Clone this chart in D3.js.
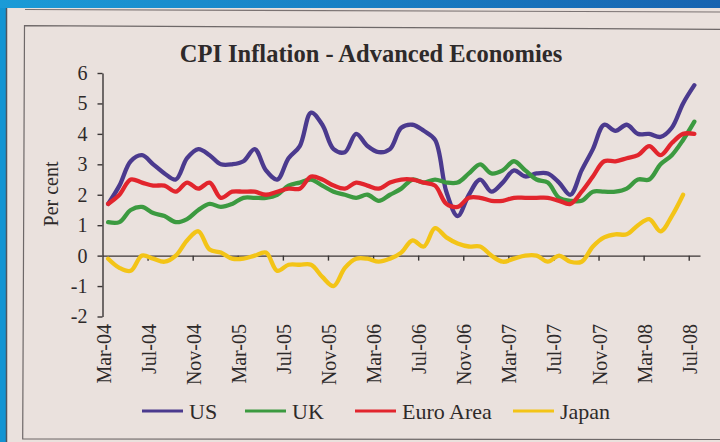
<!DOCTYPE html>
<html>
<head>
<meta charset="utf-8">
<script src="https://cdn.jsdelivr.net/npm/d3@7"></script>
<style>
  html, body { margin: 0; padding: 0; background: #1593d2; overflow: hidden; }
  svg { display: block; }
  text { font-family: 'Liberation Serif', 'DejaVu Serif', serif; fill: #2e2a2a; }
</style>
</head>
<body>
<div id="chart"></div>
<script>
// ---- Data ----
var months = [
  'Mar-04','Apr-04','May-04','Jun-04','Jul-04','Aug-04','Sep-04','Oct-04','Nov-04','Dec-04',
  'Jan-05','Feb-05','Mar-05','Apr-05','May-05','Jun-05','Jul-05','Aug-05','Sep-05','Oct-05','Nov-05','Dec-05',
  'Jan-06','Feb-06','Mar-06','Apr-06','May-06','Jun-06','Jul-06','Aug-06','Sep-06','Oct-06','Nov-06','Dec-06',
  'Jan-07','Feb-07','Mar-07','Apr-07','May-07','Jun-07','Jul-07','Aug-07','Sep-07','Oct-07','Nov-07','Dec-07',
  'Jan-08','Feb-08','Mar-08','Apr-08','May-08','Jun-08','Jul-08'
];

var tickLabels = ['Mar-04','Jul-04','Nov-04','Mar-05','Jul-05','Nov-05','Mar-06',
                  'Jul-06','Nov-06','Mar-07','Jul-07','Nov-07','Mar-08','Jul-08'];

var yTicks = [-2, -1, 0, 1, 2, 3, 4, 5, 6];

var us = [1.7, 2.3, 3.1, 3.3, 3.0, 2.7, 2.5, 3.2, 3.5, 3.3,
          3.0, 3.0, 3.1, 3.5, 2.8, 2.5, 3.2, 3.6, 4.7, 4.3, 3.5, 3.4,
          4.0, 3.6, 3.4, 3.5, 4.2, 4.3, 4.1, 3.8, 2.1, 1.3, 2.0, 2.5,
          2.1, 2.4, 2.8, 2.6, 2.7, 2.7, 2.4, 2.0, 2.8, 3.5, 4.3, 4.1,
          4.3, 4.0, 4.0, 3.9, 4.2, 5.0, 5.6];

var uk = [1.1, 1.1, 1.5, 1.6, 1.4, 1.3, 1.1, 1.2, 1.5, 1.7,
          1.6, 1.7, 1.9, 1.9, 1.9, 2.0, 2.3, 2.4, 2.5, 2.3, 2.1, 2.0,
          1.9, 2.0, 1.8, 2.0, 2.2, 2.5, 2.4, 2.5, 2.4, 2.4, 2.7, 3.0,
          2.7, 2.8, 3.1, 2.8, 2.5, 2.4, 1.9, 1.8, 1.8, 2.1, 2.1, 2.1,
          2.2, 2.5, 2.5, 3.0, 3.3, 3.8, 4.4];

var euro = [1.7, 2.0, 2.5, 2.4, 2.3, 2.3, 2.1, 2.4, 2.2, 2.4,
            1.9, 2.1, 2.1, 2.1, 2.0, 2.1, 2.2, 2.2, 2.6, 2.5, 2.3, 2.2,
            2.4, 2.3, 2.2, 2.4, 2.5, 2.5, 2.4, 2.3, 1.7, 1.6, 1.9, 1.9,
            1.8, 1.8, 1.9, 1.9, 1.9, 1.9, 1.8, 1.7, 2.1, 2.6, 3.1, 3.1,
            3.2, 3.3, 3.6, 3.3, 3.7, 4.0, 4.0];

// Japan stops one month earlier (Jun-08)
var japan = [-0.1, -0.4, -0.5, 0.0, -0.1, -0.2, 0.0, 0.5, 0.8, 0.2,
             0.1, -0.1, -0.1, 0.0, 0.1, -0.5, -0.3, -0.3, -0.3, -0.7, -1.0, -0.4,
             -0.1, -0.1, -0.2, -0.1, 0.1, 0.5, 0.3, 0.9, 0.6, 0.4, 0.3, 0.3,
             0.0, -0.2, -0.1, 0.0, 0.0, -0.2, 0.0, -0.2, -0.2, 0.3, 0.6, 0.7,
             0.7, 1.0, 1.2, 0.8, 1.3, 2.0];

var seriesNames = ['US', 'UK', 'Euro Area', 'Japan'];

/**
 * Vars
 */
var width = 720,
    height = 442,
    paper = '#eae1dd',
    ink = '#3a3535',
    colors = ['#4b3a8e', '#3c9a40', '#e2252d', '#f3c417'];

var svg = d3.select('#chart').append('svg')
  .attr('width', width)
  .attr('height', height);

// blue page edge + scanned paper
var grad = svg.append('defs').append('linearGradient')
  .attr('id', 'topband').attr('x1', 0).attr('x2', 1);
grad.append('stop').attr('offset', 0).attr('stop-color', '#1b9bd7');
grad.append('stop').attr('offset', 1).attr('stop-color', '#1763b0');

svg.append('rect').attr('width', width).attr('height', height).attr('fill', '#1294d3');
svg.append('rect').attr('width', width).attr('height', 8).attr('fill', 'url(#topband)');
svg.append('rect').attr('x', 6).attr('y', 8).attr('width', width - 6).attr('height', height - 8).attr('fill', paper);
svg.append('line').attr('x1', 6.5).attr('x2', 6.5).attr('y1', 8).attr('y2', height)
  .attr('stroke', '#4d5560').attr('stroke-width', 1.5);

// frame lines from the page
svg.append('line').attr('x1', 25).attr('y1', 9.5).attr('x2', width).attr('y2', 12)
  .attr('stroke', '#7a7272').attr('stroke-width', 1.2);
svg.append('path')
  .attr('d', 'M' + width + ',29.3 L24.5,25.7 L22.7,439 L' + width + ',439.5')
  .attr('fill', 'none').attr('stroke', '#6e6868').attr('stroke-width', 1.2);

/**
 * Scales
 */
var x = d3.scaleLinear().domain([0, months.length]).range([102.5, 700]);
var y = d3.scaleLinear().domain([-2, 6]).range([316.5, 73]);

// Title
svg.append('text')
  .attr('x', 371)
  .attr('y', 62)
  .attr('text-anchor', 'middle')
  .style('font-size', '24.5px')
  .style('font-weight', 'bold')
  .text('CPI Inflation - Advanced Economies');

// Y axis (plain hyphen for negatives, as in the print)
var yAxis = svg.append('g')
  .attr('transform', 'translate(' + x(0) + ',0)')
  .call(d3.axisLeft(y).tickValues(yTicks).tickSize(5).tickSizeOuter(0).tickPadding(10)
    .tickFormat(function(d) { return String(d); }));
yAxis.selectAll('path, line').attr('stroke', ink).attr('stroke-width', 1.4);
yAxis.selectAll('text')
  .style('font-size', '20px')
  .style('font-family', "'Liberation Serif', serif")
  .attr('fill', '#2e2a2a');

svg.append('text')
  .attr('transform', 'translate(58,194) rotate(-90)')
  .attr('text-anchor', 'middle')
  .style('font-size', '20px')
  .text('Per cent');

// X axis (crosses at zero), tick every 4 months at category boundaries
var tickIdx = tickLabels.map(function(l) { return months.indexOf(l); });
var xAxis = svg.append('g')
  .attr('transform', 'translate(0,' + y(0) + ')')
  .call(d3.axisBottom(x)
    .tickValues(tickIdx.filter(function(i) { return i > 0; }))
    .tickSize(5).tickSizeOuter(0).tickFormat(''));
xAxis.selectAll('path, line').attr('stroke', ink).attr('stroke-width', 1.4);

// rotated month labels below the plot
svg.selectAll('.xlab').data(tickLabels)
  .enter().append('text')
    .attr('class', 'xlab')
    .attr('text-anchor', 'end')
    .attr('transform', function(d) {
      return 'translate(' + (x(months.indexOf(d)) + 1) + ',324) rotate(-90)';
    })
    .attr('dy', '0.35em')
    .style('font-size', '20px')
    .text(function(d) { return d; });

/**
 * Lines
 */
var line = d3.line()
  .x(function(d, i) { return x(i + 0.5); })
  .y(function(d) { return y(d); })
  .curve(d3.curveCatmullRom.alpha(0.5));

svg.selectAll('.series').data([us, uk, euro, japan])
  .enter().append('path')
    .attr('class', 'series')
    .attr('d', line)
    .attr('fill', 'none')
    .attr('stroke', function(d, i) { return colors[i]; })
    .attr('stroke-width', 4.3)
    .attr('stroke-linejoin', 'round')
    .attr('stroke-linecap', 'round');

/**
 * Legend
 */
var legendX = [142, 245, 355, 513];
var legend = svg.selectAll('.legend').data(seriesNames)
  .enter().append('g')
    .attr('class', 'legend')
    .attr('transform', function(d, i) { return 'translate(' + legendX[i] + ',411)'; });

legend.append('line')
  .attr('x1', 0).attr('x2', 41)
  .attr('stroke', function(d, i) { return colors[i]; })
  .attr('stroke-width', 3);

legend.append('text')
  .attr('x', 47)
  .attr('dy', '0.35em')
  .style('font-size', '22px')
  .text(function(d) { return d; });
</script>
</body>
</html>
